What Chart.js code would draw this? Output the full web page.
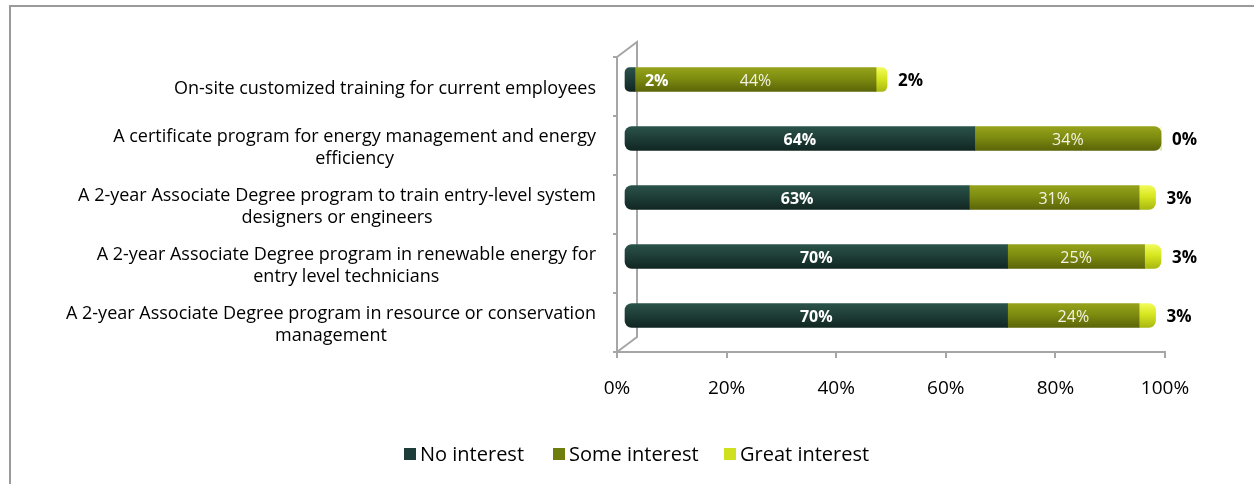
<!DOCTYPE html>
<html>
<head>
<meta charset="utf-8">
<script src="https://cdn.jsdelivr.net/npm/chart.js@4/dist/chart.umd.min.js"></script>
<style>
  html, body { margin: 0; padding: 0; background: #ffffff; }
  #wrap { position: relative; width: 1254px; height: 484px; }
</style>
</head>
<body>
<div id="wrap"><canvas id="c" width="1254" height="484"></canvas></div>
<script>
// Survey programmes (category axis), one array of lines per label
const programs = [
  ['On-site customized training for current employees'],
  ['A certificate program for energy management and energy', 'efficiency'],
  ['A 2-year Associate Degree program to train entry-level system', 'designers or engineers'],
  ['A 2-year Associate Degree program in renewable energy for', 'entry level technicians'],
  ['A 2-year Associate Degree program in resource or conservation', 'management']
];

// Share of employers (%) by level of interest
const noInterest    = [2, 64, 63, 70, 70];
const someInterest  = [44, 34, 31, 25, 24];
const greatInterest = [2, 0, 3, 3, 3];

const seriesNames = ['No interest', 'Some interest', 'Great interest'];
const percentTicks = [0, 20, 40, 60, 80, 100];

const FONT = '"Open Sans", Lato, sans-serif';
const AXIS_GRAY = '#a6a6a6';

// cylinder shading: top, middle, bottom stops; flat colour for the legend key
const palettes = [
  { stops: ['#2a534a', '#1f3f38', '#112622'], key: '#1f3d38' },
  { stops: ['#95a31b', '#7e8c10', '#5b6508'], key: '#6e7d0c' },
  { stops: ['#f2fb5a', '#d6e61f', '#a9b812'], key: '#cfe021' }
];

const BAR_H = 24;
const DEPTH = { dx: 20, dy: -15 };    // back wall offset
const BAR_SHIFT = { dx: 7, dy: -7 };  // bars sit midway into the depth

function shaded(i) {
  return (ctx) => {
    const chart = ctx.chart;
    const p = palettes[i];
    if (ctx.type !== 'data' || !chart.chartArea) return p.stops[1];
    const cy = chart.scales.y.getPixelForValue(ctx.dataIndex);
    const g = chart.ctx.createLinearGradient(0, cy - BAR_H / 2, 0, cy + BAR_H / 2);
    g.addColorStop(0, p.stops[0]);
    g.addColorStop(0.45, p.stops[1]);
    g.addColorStop(1, p.stops[2]);
    return g;
  };
}

const stacks = [noInterest, someInterest, greatInterest];

function lastNonZero(idx) {
  let last = 0;
  stacks.forEach((s, k) => { if (s[idx] > 0) last = k; });
  return last;
}

function radius(i) {
  return (ctx) => {
    if (ctx.type !== 'data') return 0;
    const r = 7;
    const left = i === 0 ? r : 0;
    const right = lastNonZero(ctx.dataIndex) === i ? r : 0;
    return { topLeft: left, bottomLeft: left, topRight: right, bottomRight: right };
  };
}

// outer frame around the figure
const framePlugin = {
  id: 'frame',
  beforeDraw(chart) {
    const c = chart.ctx;
    c.save();
    c.strokeStyle = '#9a9a9a';
    c.lineWidth = 2;
    c.beginPath();
    c.moveTo(10, 484);
    c.lineTo(10, 6);
    c.lineTo(1254, 6);
    c.stroke();
    c.restore();
  }
};

// back wall edges of the 3-D plot box, then shift the bars into the depth
const depthPlugin = {
  id: 'depth',
  beforeDatasetsDraw(chart) {
    const { left, top, bottom } = chart.chartArea;
    const c = chart.ctx;
    c.save();
    c.strokeStyle = AXIS_GRAY;
    c.lineWidth = 2;
    c.beginPath();
    c.moveTo(left, top);
    c.lineTo(left + DEPTH.dx, top + DEPTH.dy);
    c.lineTo(left + DEPTH.dx, bottom + DEPTH.dy);
    c.lineTo(left, bottom);
    c.stroke();
    c.restore();
    c.save();
    c.translate(BAR_SHIFT.dx, BAR_SHIFT.dy);
  },
  afterDatasetsDraw(chart) {
    const c = chart.ctx;
    // value labels on the bars
    chart.data.datasets.forEach((ds, i) => {
      const meta = chart.getDatasetMeta(i);
      meta.data.forEach((bar, j) => {
        const v = ds.data[j];
        const text = v + '%';
        const start = Math.min(bar.base, bar.x);
        const end = Math.max(bar.base, bar.x);
        c.save();
        c.textBaseline = 'middle';
        if (i === 2) {
          c.font = 'bold 17px ' + FONT;
          c.fillStyle = '#000000';
          c.textAlign = 'left';
          c.fillText(text, end + 11, bar.y + 2);
        } else {
          c.font = (i === 0 ? 'bold ' : '') + '16px ' + FONT;
          c.fillStyle = i === 0 ? '#ffffff' : '#f3f3e4';
          c.textAlign = 'center';
          const tw = c.measureText(text).width;
          let cx = (start + end) / 2;
          if (tw > end - start - 4) cx = end + tw / 2 + 10;
          c.fillText(text, cx, bar.y + 2);
        }
        c.restore();
      });
    });
    c.restore();
  }
};

// category labels: each block right-aligned, its lines centred on each other
const categoryLabels = {
  id: 'categoryLabels',
  afterDraw(chart) {
    const y = chart.scales.y;
    const c = chart.ctx;
    const right = 596;
    const lh = 22;
    c.save();
    c.font = '18px ' + FONT;
    c.fillStyle = '#000000';
    c.textAlign = 'center';
    c.textBaseline = 'middle';
    programs.forEach((lines, i) => {
      const w = Math.max(...lines.map(l => c.measureText(l).width));
      const cx = right - w / 2;
      const cy = y.getPixelForValue(i) + 2;
      const y0 = cy - (lines.length - 1) * lh / 2;
      lines.forEach((l, k) => c.fillText(l, cx, y0 + k * lh));
    });
    c.restore();
  }
};

// legend along the bottom
const legendKeys = {
  id: 'legendKeys',
  afterDraw(chart) {
    const c = chart.ctx;
    const xs = [404, 553, 724];
    const cy = 454;
    c.save();
    c.font = '20px ' + FONT;
    c.textBaseline = 'middle';
    c.textAlign = 'left';
    seriesNames.forEach((name, i) => {
      c.fillStyle = palettes[i].key;
      c.fillRect(xs[i], cy - 6, 12, 12);
      c.fillStyle = '#000000';
      c.fillText(name, xs[i] + 16, cy + 1);
    });
    c.restore();
  }
};

new Chart(document.getElementById('c'), {
  type: 'bar',
  data: {
    labels: programs.map(l => l.join(' ')),
    datasets: stacks.map((values, i) => ({
      label: seriesNames[i],
      data: values,
      backgroundColor: shaded(i),
      borderWidth: 0,
      borderSkipped: false,
      borderRadius: radius(i),
      barThickness: BAR_H
    }))
  },
  options: {
    indexAxis: 'y',
    responsive: false,
    animation: false,
    devicePixelRatio: 1,
    layout: { padding: { top: 57, right: 89, left: 0, bottom: 0 } },
    scales: {
      x: {
        stacked: true,
        min: 0,
        max: 100,
        afterFit(s) { s.height = 132; },
        afterBuildTicks(s) { s.ticks = percentTicks.map(v => ({ value: v })); },
        ticks: {
          callback: v => v + '%',
          color: '#000000',
          font: { family: FONT, size: 19 },
          padding: 19,
          maxRotation: 0
        },
        grid: { drawOnChartArea: false, drawTicks: true, tickLength: 6, color: AXIS_GRAY, lineWidth: 2 },
        border: { display: true, color: AXIS_GRAY, width: 2 }
      },
      y: {
        stacked: true,
        afterFit(s) { s.width = 617; },
        ticks: { display: false },
        grid: { drawOnChartArea: false, drawTicks: true, tickLength: 4, color: AXIS_GRAY, lineWidth: 2, offset: true },
        border: { display: true, color: AXIS_GRAY, width: 2 }
      }
    },
    plugins: {
      legend: { display: false },
      tooltip: { enabled: false },
      title: { display: false }
    }
  },
  plugins: [framePlugin, depthPlugin, categoryLabels, legendKeys]
});
</script>
</body>
</html>
